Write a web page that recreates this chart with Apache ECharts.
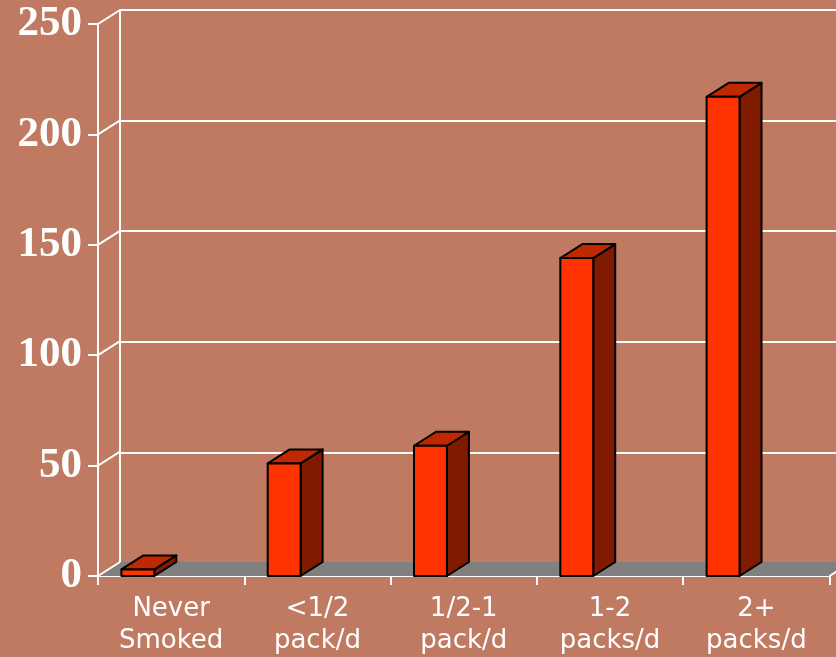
<!DOCTYPE html>
<html style="height: 100%;">
  <head>
    <meta charset="utf-8" />
    <script src="https://cdn.jsdelivr.net/npm/echarts@6/dist/echarts.min.js"></script>
    <style>
      html, body {
        margin: 0;
        padding: 0;
        height: 100%;
        width: 100%;
        background: #C07A62;
      }
      #chart {
        width: 836px;
        height: 657px;
      }
    </style>
  </head>
  <body>
    <div id="chart"></div>
    <script>
      // data
      var categories = ['Never\nSmoked', '<1/2\npack/d', '1/2-1\npack/d', '1-2\npacks/d', '2+\npacks/d'];
      var values = [3, 51, 59, 144, 217];
      var yTicks = [0, 50, 100, 150, 200, 250];

      // 3d depth offset of the back wall
      var DX = 22, DY = -14;

      var chart = echarts.init(document.getElementById('chart'));

      function renderBar(params, api) {
        var idx = api.value(0), val = api.value(1);
        var base = api.coord([idx, 0]);
        var top = api.coord([idx, val]);
        var band = api.size([1, 0])[0];
        var L = base[0] - band * 0.34, R = L + band * 0.225;
        var y0 = base[1], y1 = top[1];
        var edge = { stroke: '#000', lineWidth: 2, lineJoin: 'round' };
        return {
          type: 'group',
          children: [
            { type: 'polygon', shape: { points: [[R, y1], [R + DX, y1 + DY], [R + DX, y0 + DY], [R, y0]] },
              style: Object.assign({ fill: '#801A00' }, edge) },
            { type: 'polygon', shape: { points: [[L, y1], [R, y1], [R + DX, y1 + DY], [L + DX, y1 + DY]] },
              style: Object.assign({ fill: '#C02800' }, edge) },
            { type: 'rect', shape: { x: L, y: y1, width: R - L, height: y0 - y1 },
              style: Object.assign({ fill: '#FF3300' }, edge) }
          ]
        };
      }

      function renderFloor(params, api) {
        var band = api.size([1, 0])[0];
        var a = api.coord([0, 0]), b = api.coord([categories.length - 1, 0]);
        var x0 = a[0] - band / 2, x1 = b[0] + band / 2, y = a[1];
        return {
          type: 'group',
          children: [
            { type: 'polygon', shape: { points: [[x0, y], [x1, y], [x1 + DX, y + DY], [x0 + DX, y + DY]] },
              style: { fill: '#808080' } },
            { type: 'line', shape: { x1: x1, y1: y, x2: x1 + DX, y2: y + DY },
              style: { stroke: '#fff', lineWidth: 2 } }
          ]
        };
      }

      function renderWall(params, api) {
        var band = api.size([1, 0])[0];
        var p = api.coord([0, api.value(0)]);
        var x = p[0] - band / 2;
        return {
          type: 'line',
          shape: { x1: x, y1: p[1], x2: x + DX, y2: p[1] + DY },
          style: { stroke: '#fff', lineWidth: 2 }
        };
      }

      var option = {
        backgroundColor: '#C07A62',
        animation: false,
        grid: [
          { left: 98, top: 24, width: 731.5, height: 553 },
          { left: 98 + DX, top: 24 + DY, width: 731.5, height: 553 }
        ],
        xAxis: [
          {
            type: 'category',
            gridIndex: 0,
            data: categories,
            axisLine: { lineStyle: { color: '#fff', width: 2 } },
            axisTick: { show: true, length: 9, lineStyle: { color: '#fff', width: 2 } },
            axisLabel: {
              color: '#fff',
              fontFamily: '"DejaVu Sans", Verdana, sans-serif',
              fontSize: 26,
              lineHeight: 32,
              margin: 17,
              interval: 0
            }
          },
          { type: 'category', gridIndex: 1, data: categories, show: false }
        ],
        yAxis: [
          {
            type: 'value',
            gridIndex: 0,
            min: 0,
            max: 250,
            interval: 50,
            axisLine: { show: true, lineStyle: { color: '#fff', width: 2 } },
            axisTick: { show: true, length: 10, lineStyle: { color: '#fff', width: 2 } },
            splitLine: { show: false },
            axisLabel: {
              color: '#fff',
              fontFamily: '"Liberation Serif", "Times New Roman", serif',
              fontWeight: 'bold',
              fontSize: 43,
              margin: 16
            }
          },
          {
            type: 'value',
            gridIndex: 1,
            min: 0,
            max: 250,
            interval: 50,
            axisLine: { show: true, lineStyle: { color: '#fff', width: 2 } },
            axisTick: { show: false },
            axisLabel: { show: false },
            splitLine: { show: true, lineStyle: { color: '#fff', width: 2 } }
          }
        ],
        series: [
          {
            type: 'custom',
            name: 'floor',
            xAxisIndex: 0,
            yAxisIndex: 0,
            z: 1,
            renderItem: renderFloor,
            data: [[0]],
            silent: true
          },
          {
            type: 'custom',
            name: 'wall',
            xAxisIndex: 0,
            yAxisIndex: 0,
            z: 1,
            renderItem: renderWall,
            data: yTicks.map(function (t) { return [t]; }),
            silent: true
          },
          {
            type: 'custom',
            name: 'bars',
            xAxisIndex: 0,
            yAxisIndex: 0,
            z: 3,
            renderItem: renderBar,
            encode: { x: 0, y: 1 },
            data: values.map(function (v, i) { return [i, v]; })
          }
        ]
      };
      chart.setOption(option);
    </script>
  </body>
</html>
